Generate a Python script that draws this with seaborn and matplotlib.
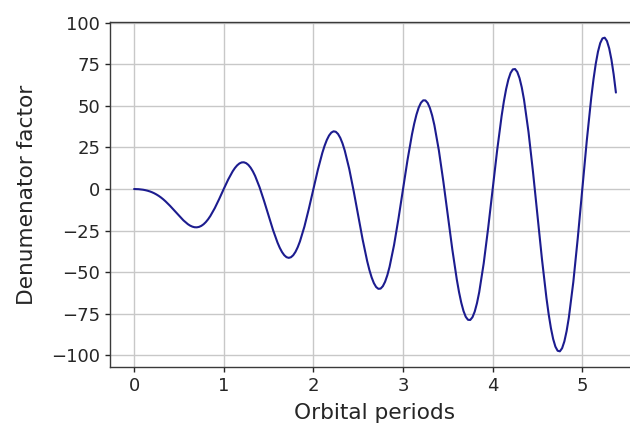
import matplotlib
matplotlib.use("Agg")
import matplotlib.pyplot as plt
import seaborn as sns
import pandas as pd

# samples every 0.05 orbital periods
periods_coarse = [
    0.00, 0.05, 0.10, 0.15, 0.20, 0.25, 0.30, 0.35, 0.40, 0.45,
    0.50, 0.55, 0.60, 0.65, 0.70, 0.75, 0.80, 0.85, 0.90, 0.95,
    1.00, 1.05, 1.10, 1.15, 1.20, 1.25, 1.30, 1.35, 1.40, 1.45,
    1.50, 1.55, 1.60, 1.65, 1.70, 1.75, 1.80, 1.85, 1.90, 1.95,
    2.00, 2.05, 2.10, 2.15, 2.20, 2.25, 2.30, 2.35, 2.40, 2.45,
    2.50, 2.55, 2.60, 2.65, 2.70, 2.75, 2.80, 2.85, 2.90, 2.95,
    3.00, 3.05, 3.10, 3.15, 3.20, 3.25, 3.30, 3.35, 3.40, 3.45,
    3.50, 3.55, 3.60, 3.65, 3.70, 3.75, 3.80, 3.85, 3.90, 3.95,
    4.00, 4.05, 4.10, 4.15, 4.20, 4.25, 4.30, 4.35, 4.40, 4.45,
    4.50, 4.55, 4.60, 4.65, 4.70, 4.75, 4.80, 4.85, 4.90, 4.95,
    5.00, 5.05, 5.10, 5.15, 5.20, 5.25, 5.30, 5.35, 5.375,
]

denominator_coarse = [
    0.0, -0.10, -0.42, -1.01, -1.94, -3.29, -5.09, -7.37, -10.04, -12.99,
    -16.0, -18.81, -21.12, -22.61, -23.02, -22.14, -19.87, -16.26, -11.50, -5.92,
    0.0, 5.73, 10.66, 14.24, 15.99, 15.56, 12.83, 7.89, 1.04, -7.16,
    -16.0, -24.64, -32.20, -37.86, -40.95, -40.99, -37.80, -31.51, -22.58, -11.75,
    0.0, 11.55, 21.74, 29.49, 33.91, 34.41, 30.76, 23.13, 12.12, -1.34,
    -16.0, -30.46, -43.28, -53.11, -58.88, -59.84, -55.73, -46.76, -33.66, -17.57,
    0.0, 17.37, 32.82, 44.74, 51.84, 53.26, 48.69, 38.38, 23.20, 4.49,
    -16.0, -36.29, -54.36, -68.36, -76.81, -78.69, -73.65, -62.01, -44.74, -23.40,
    0.0, 23.20, 43.90, 59.99, 69.77, 72.11, 66.62, 53.63, 34.28, 10.31,
    -16.0, -42.11, -65.44, -83.61, -94.73, -97.54, -91.58, -77.26, -55.82, -29.22,
    0.0, 29.02, 54.98, 75.24, 87.70, 90.96, 84.55, 68.88, 57.98,
]

# extra samples read around the crests and troughs
periods_fine = [
    0.125, 0.175, 0.225, 0.275, 0.325, 0.625, 0.675, 0.725, 0.775, 0.825,
    1.125, 1.175, 1.225, 1.275, 1.325, 1.625, 1.675, 1.725, 1.775, 1.825,
    2.125, 2.175, 2.225, 2.275, 2.325, 2.625, 2.675, 2.725, 2.775, 2.825,
    3.125, 3.175, 3.225, 3.275, 3.325, 3.625, 3.675, 3.725, 3.775, 3.825,
    4.125, 4.175, 4.225, 4.275, 4.325, 4.625, 4.675, 4.725, 4.775, 4.825,
    5.125, 5.175, 5.225, 5.275, 5.325,
]

denominator_fine = [
    -0.68, -1.43, -2.56, -4.13, -6.17, -21.99, -22.97, -22.75, -21.18, -18.22,
    12.65, 15.37, 16.06, 14.49, 10.62, -35.32, -39.76, -41.37, -39.80, -35.02,
    25.98, 32.16, 34.68, 33.10, 27.42, -48.65, -56.56, -59.98, -58.41, -51.82,
    39.31, 48.96, 53.29, 51.72, 44.21, -61.97, -73.35, -78.60, -77.03, -68.61,
    52.64, 65.75, 71.91, 70.34, 61.01, -75.30, -90.15, -97.22, -95.65, -85.41,
    65.97, 82.55, 90.53, 88.96, 77.80,
]

df = pd.DataFrame({
    "Orbital periods": periods_coarse + periods_fine,
    "Denumenator factor": denominator_coarse + denominator_fine,
})

sns.set_style("white")
plt.rcParams["font.family"] = ["DejaVu Sans"]

fig = plt.figure(figsize=(6.3, 4.25), dpi=100)
ax = fig.add_axes([110 / 630, (425 - 367) / 425, 530 / 630, 345 / 425])

sns.lineplot(data=df, x="Orbital periods", y="Denumenator factor", ax=ax,
             color="#1c1c8f", linewidth=1.5, sort=True, estimator=None)

ax.grid(True, color="#c8c8c8", linewidth=1.0)
ax.set_axisbelow(True)
for s in ax.spines.values():
    s.set_color("#3a3a3a")
    s.set_linewidth(1.0)
ax.spines["right"].set_visible(False)
ax.tick_params(axis="both", which="major", labelsize=13, colors="#262626",
               length=3.5, width=1, left=True, bottom=True)
ax.set_xlabel("Orbital periods", fontsize=15.6, color="#262626", labelpad=6)
ax.set_ylabel("Denumenator factor", fontsize=15.6, color="#262626", labelpad=10)
ax.set_yticks([-100, -75, -50, -25, 0, 25, 50, 75, 100])
ax.set_xticks([0, 1, 2, 3, 4, 5])
ax.margins(x=0.05, y=0.05)

fig.savefig("out.png", dpi=100)
